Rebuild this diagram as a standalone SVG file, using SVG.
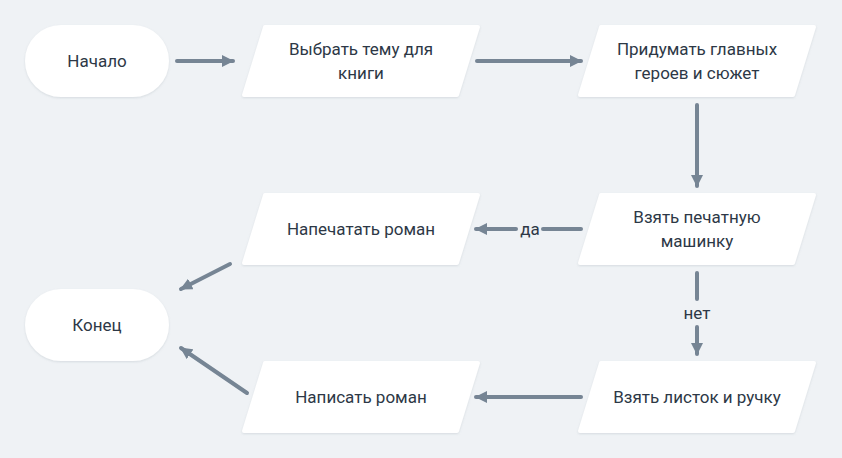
<svg xmlns="http://www.w3.org/2000/svg" width="842" height="458" viewBox="0 0 842 458">
<defs>
<style>
.node{fill:#ffffff;stroke:#ffffff;stroke-width:4;stroke-linejoin:round;filter:url(#sh)}
.t{font-family:Roboto,"Noto Sans","Liberation Sans",sans-serif;font-size:17px;fill:#2d3846;text-anchor:middle;dominant-baseline:central}
.e{stroke:#768594;stroke-width:4;fill:none;stroke-linecap:round}
.lbl{font-family:Roboto,"Noto Sans","Liberation Sans",sans-serif;font-size:17px;fill:#2d3846;text-anchor:middle;dominant-baseline:central}
</style>
<filter id="sh" x="-10%" y="-20%" width="120%" height="140%">
<feDropShadow dx="0" dy="1" stdDeviation="1" flood-color="#8a96a3" flood-opacity="0.25"/>
</filter>
<marker id="ah" viewBox="0 0 12 12" refX="11" refY="6" markerWidth="12" markerHeight="12" markerUnits="userSpaceOnUse" orient="auto">
<path d="M0,0 L12,6 L0,12 Z" fill="#768594"/>
</marker>
</defs>
<rect width="842" height="458" fill="#eff2f5"/>
<g id="n-start"><rect class="node" x="27" y="27" width="140" height="68" rx="34"/><text class="t" x="97" y="61">Начало</text></g>
<g id="n-theme"><polygon class="node" points="265,27 478,27 457,95 244,95"/><text class="t" x="361" y="49">Выбрать тему для</text><text class="t" x="361" y="73">книги</text></g>
<g id="n-heroes"><polygon class="node" points="601,27 814,27 793,95 580,95"/><text class="t" x="697" y="49">Придумать главных</text><text class="t" x="697" y="73">героев и сюжет</text></g>
<g id="n-typewriter"><polygon class="node" points="601,195 814,195 793,263 580,263"/><text class="t" x="697" y="217">Взять печатную</text><text class="t" x="697" y="241">машинку</text></g>
<g id="n-print"><polygon class="node" points="265,195 478,195 457,263 244,263"/><text class="t" x="361" y="229">Напечатать роман</text></g>
<g id="n-paper"><polygon class="node" points="601,363 814,363 793,431 580,431"/><text class="t" x="697" y="397">Взять листок и ручку</text></g>
<g id="n-write"><polygon class="node" points="265,363 478,363 457,431 244,431"/><text class="t" x="361" y="397">Написать роман</text></g>
<g id="n-end"><rect class="node" x="27" y="291" width="140" height="68" rx="34"/><text class="t" x="97" y="325">Конец</text></g>
<g id="edges">
<line class="e" x1="177" y1="61" x2="233" y2="61" marker-end="url(#ah)"/>
<line class="e" x1="477" y1="61" x2="581" y2="61" marker-end="url(#ah)"/>
<line class="e" x1="697" y1="105" x2="697" y2="186" marker-end="url(#ah)"/>
<line class="e" x1="581" y1="229" x2="543" y2="229"/>
<line class="e" x1="516" y1="229" x2="476" y2="229" marker-end="url(#ah)"/>
<text class="lbl" x="530" y="229">да</text>
<line class="e" x1="697" y1="273" x2="697" y2="299"/>
<line class="e" x1="697" y1="327" x2="697" y2="354" marker-end="url(#ah)"/>
<text class="lbl" x="697" y="313">нет</text>
<line class="e" x1="581" y1="397" x2="476" y2="397" marker-end="url(#ah)"/>
<line class="e" x1="230" y1="264" x2="181" y2="289" marker-end="url(#ah)"/>
<line class="e" x1="247" y1="393" x2="181" y2="348" marker-end="url(#ah)"/>
</g>
</svg>
